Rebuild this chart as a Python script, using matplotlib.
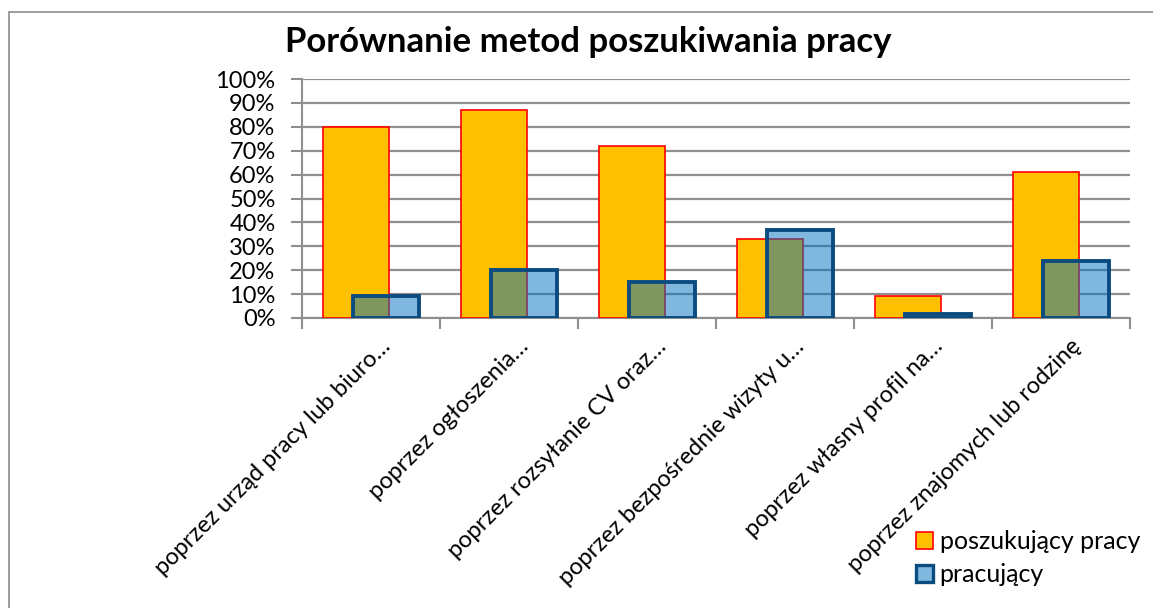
import matplotlib.pyplot as plt
import matplotlib.transforms as mtransforms
from matplotlib.patches import Rectangle, Patch
import numpy as np

plt.rcParams['font.family'] = ['Lato', 'DejaVu Sans']

# Data
categories = [
    'poprzez urząd pracy lub biuro…',
    'poprzez ogłoszenia…',
    'poprzez rozsyłanie CV oraz…',
    'poprzez bezpośrednie wizyty u…',
    'poprzez własny profil na…',
    'poprzez znajomych lub rodzinę',
]
seeking = [80, 87, 72, 33, 9, 61]
working = [9, 20, 15, 37, 1.5, 24]
series_names = ['poszukujący pracy', 'pracujący']
y_ticks = list(range(0, 101, 10))

W, H = 1153, 608
fig = plt.figure(figsize=(W / 100, H / 100), dpi=100)

# outer chart border (cut off at right and bottom like the screenshot)
fig.patches.append(Rectangle((9 / W, -0.1), 1.2, 1 - 12 / H + 0.1,
                             transform=fig.transFigure, fill=False,
                             edgecolor='#8c8c8c', linewidth=1.2))

ax = fig.add_axes([302 / W, 1 - 318 / H, (1130 - 302) / W, (318 - 79) / H])

x = np.arange(len(categories))
width = 0.48
shift = 0.11

ax.bar(x - shift, seeking, width, color='#FFC000', edgecolor='#FF0000',
       linewidth=1.2, zorder=3)
ax.bar(x + shift, working, width, facecolor=(0.0, 0.44, 0.75, 0.5),
       edgecolor='#0B4C80', linewidth=2.8, zorder=4)

ax.set_xlim(-0.5, len(categories) - 0.5)
ax.set_ylim(0, 100)
ax.set_yticks(y_ticks)
ax.set_yticklabels([f'{v}%' for v in y_ticks], fontsize=17)
ax.yaxis.grid(True, color='#8f8f8f', linewidth=1.6, zorder=0)
ax.set_axisbelow(True)

ax.set_xticks(x)
ax.set_xticklabels(categories, rotation=45, ha='right', va='center',
                   rotation_mode='anchor', fontsize=17)
ax.tick_params(axis='x', length=0, pad=18)
offset = mtransforms.ScaledTranslation(16 / 100, 0, fig.dpi_scale_trans)
for lab in ax.get_xticklabels():
    lab.set_transform(lab.get_transform() + offset)
ax.set_xticks(np.arange(-0.5, len(categories)), minor=True)
ax.tick_params(axis='x', which='minor', length=8, color='#8f8f8f', width=1.5)
ax.tick_params(axis='y', length=8, color='#8f8f8f', width=1.5, pad=11)

for side in ['top', 'right']:
    ax.spines[side].set_visible(False)
ax.spines['left'].set_color('#8f8f8f')
ax.spines['left'].set_linewidth(1.5)
ax.spines['bottom'].set_color('#8f8f8f')
ax.spines['bottom'].set_linewidth(1.5)

fig.text(588 / W, 1 - 42 / H, 'Porównanie metod poszukiwania pracy',
         ha='center', va='center', fontsize=25, fontweight='bold')

handles = [
    Patch(facecolor='#FFC000', edgecolor='#FF0000', linewidth=1.2),
    Patch(facecolor='#80B8E0', edgecolor='#0B4C80', linewidth=2.4),
]
fig.legend(handles, series_names, loc='lower right',
           bbox_to_anchor=(1150 / W, 1 - 596 / H), frameon=False,
           fontsize=18, handlelength=0.7, handleheight=0.7,
           handletextpad=0.25, labelspacing=0.4, borderaxespad=0)

fig.savefig('out.png', dpi=100)
